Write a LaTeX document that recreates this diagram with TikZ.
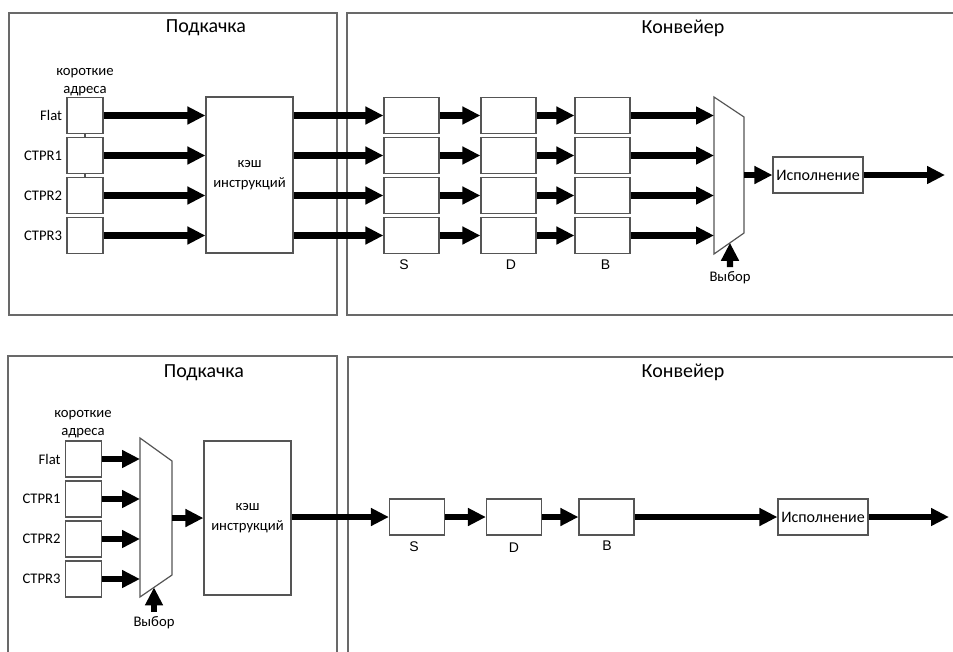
\documentclass[tikz,border=0pt]{standalone}
\usepackage{fontspec}
\setmainfont{Carlito}
\newfontfamily\arialfont{Liberation Sans}
\usepackage{tikz}
\usetikzlibrary{arrows.meta,positioning,calc}
\definecolor{panelgray}{RGB}{105,105,105}
\definecolor{boxgray}{RGB}{85,85,85}

\begin{document}
\begin{tikzpicture}[
    x=0.75pt, y=-0.75pt,
    every node/.style={font=\fontsize{11}{13.5}\selectfont, align=center},
    panel/.style={draw=panelgray, line width=1pt},
    reg/.style={draw=boxgray, line width=0.9pt, minimum width=27pt, minimum height=27pt, inner sep=0pt},
    stagebox/.style={reg, minimum width=41.25pt},
    cachebox/.style={reg, minimum width=65.25pt, minimum height=117pt, font=\fontsize{11}{15}\selectfont},
    execbox/.style={reg, minimum width=67.5pt, font=\fontsize{12}{14}\selectfont},
    muxshape/.style={draw=boxgray, line width=0.9pt, fill=white},
    bus/.style={line width=4.8pt, -{Triangle[length=13.5pt, width=12.75pt]}},
    headlbl/.style={font=\fontsize{15}{18}\selectfont},
    stagelbl/.style={font=\arialfont\fontsize{10.5}{12}\selectfont}
]
\useasboundingbox (0,0) rectangle (953,651);

%%%% upper scheme: mux after the pipeline
% panels
\draw[panel] (9,13) rectangle (337,315);
\draw[panel] (960,13) -| (347,315) -- (960,315);
\node[headlbl] (podA) at (206,28) {Подкачка};
\node[headlbl] (konA) at (683,28) {Конвейер};

\node (addrA) at (85,82) {короткие\\адреса};
\node[cachebox] (cacheA) at (249.5,175) {кэш\\инструкций};

% selector
\coordinate (mxa) at (714,97);
\coordinate (mxb) at (744,117);
\coordinate (mxc) at (744,233);
\coordinate (mxd) at (714,254);
\draw[muxshape] (mxa) -- (mxb) -- (mxc) -- (mxd) -- cycle;

% four address registers, each with its own S/D/B stages
\foreach \i/\y/\name in {1/115.5/Flat, 2/155.5/CTPR1, 3/195.5/CTPR2, 4/235.5/CTPR3} {
  \node[reg] (r\i) at (85,\y) {};
  \node[left=3pt of r\i, inner sep=0pt] (n\i) {\name};
  \node[stagebox] (s\i) at (411.5,\y) {};
  \node[stagebox] (d\i) at (508.5,\y) {};
  \node[stagebox] (b\i) at (602.5,\y) {};
  \draw[bus] (r\i.east) -- (r\i.east -| cacheA.west);
  \draw[bus] (r\i -| cacheA.east) -- (s\i.west);
  \draw[bus] (s\i) -- (d\i);
  \draw[bus] (d\i) -- (b\i);
  \draw[bus] (b\i.east) -- (b\i.east -| mxa);
}
\draw[boxgray, line width=0.9pt] (r1.south) -- (r2.north);
\draw[boxgray, line width=0.9pt] (r2.south) -- (r3.north);

\node[stagelbl] (lsA) at (404,265) {S};
\node[stagelbl] (ldA) at (511,265) {D};
\node[stagelbl] (lbA) at (605.5,265) {B};

\node[execbox] (exA) at (818,175) {Исполнение};
\coordinate (outA) at (945,175);
\draw[bus] (mxb |- exA) -- (exA);
\draw[bus] (exA) -- (outA);

\coordinate (selptA) at ($(mxd)!0.533!(mxc)$);
\node (selA) at (730,278) {Выбор};
\draw[bus] (selA.north) -- (selptA);

%%%% lower scheme: mux before the cache
% panels
\draw[panel] (8,660) |- (337,356) -- (337,660);
\draw[panel] (348,660) |- (960,357);
\node[headlbl] (podB) at (204,373) {Подкачка};
\node[headlbl] (konB) at (683,372) {Конвейер};

\node (addrB) at (83,424) {короткие\\адреса};

% selector
\coordinate (mxe) at (140,438);
\coordinate (mxf) at (172,461);
\coordinate (mxg) at (172,575);
\coordinate (mxh) at (140,597);
\draw[muxshape] (mxe) -- (mxf) -- (mxg) -- (mxh) -- cycle;

\foreach \i/\y/\name in {1/459/Flat, 2/499/CTPR1, 3/539/CTPR2, 4/579/CTPR3} {
  \node[reg] (q\i) at (83.5,\y) {};
  \node[left=3pt of q\i, inner sep=0pt] (m\i) {\name};
  \draw[bus] (q\i.east) -- (q\i.east -| mxe);
}

\node[cachebox, minimum height=115.5pt] (cacheB) at (247.5,518) {кэш\\инструкций};
\draw[bus] (mxf |- cacheB) -- (cacheB);

\coordinate (selptB) at ($(mxh)!0.4375!(mxg)$);
\node (selB) at (154,623) {Выбор};
\draw[bus] (selB.north) -- (selptB);

% single pipeline
\node[stagebox] (sB) at (417,517) {};
\node[stagebox] (dB) at (514,517) {};
\node[stagebox] (bB) at (606.5,517) {};
\node[execbox] (exB) at (823,517) {Исполнение};
\coordinate (outB) at (949,517);
\draw[bus] (cacheB.east |- sB) -- (sB);
\draw[bus] (sB) -- (dB);
\draw[bus] (dB) -- (bB);
\draw[bus] (bB) -- (exB);
\draw[bus] (exB) -- (outB);

\node[stagelbl] (lsB) at (414,547) {S};
\node[stagelbl] (ldB) at (514,548) {D};
\node[stagelbl] (lbB) at (607,546) {B};
\end{tikzpicture}
\end{document}
